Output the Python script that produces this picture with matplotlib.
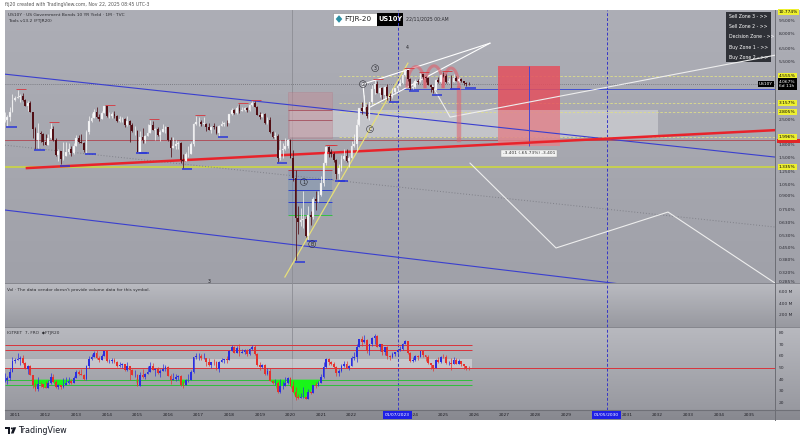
import numpy as np
import matplotlib
matplotlib.use("Agg")
import matplotlib.pyplot as plt
from matplotlib.patches import Rectangle, Polygon, Circle
from matplotlib.ticker import NullLocator

# ---------------- data ----------------
# US10Y monthly candles, Sep 2010 .. Nov 2025 (yield, %)
first_year, first_month = 2010, 9
first_open = 2.47
closes = [
    2.51, 2.60, 2.80, 3.29,
    3.37, 3.42, 3.47, 3.29, 3.05, 3.16, 2.80, 2.22, 1.92, 2.11, 2.07, 1.88,
    1.80, 1.98, 2.21, 1.91, 1.56, 1.65, 1.49, 1.55, 1.63, 1.69, 1.61, 1.76,
    1.98, 1.88, 1.85, 1.67, 2.13, 2.49, 2.58, 2.78, 2.61, 2.55, 2.74, 3.03,
    2.64, 2.65, 2.72, 2.65, 2.48, 2.53, 2.56, 2.34, 2.49, 2.34, 2.16, 2.17,
    1.64, 2.00, 1.92, 2.03, 2.12, 2.35, 2.18, 2.22, 2.04, 2.14, 2.21, 2.27,
    1.92, 1.73, 1.77, 1.83, 1.85, 1.47, 1.45, 1.58, 1.59, 1.83, 2.38, 2.44,
    2.45, 2.39, 2.39, 2.28, 2.20, 2.30, 2.29, 2.12, 2.33, 2.38, 2.41, 2.40,
    2.72, 2.86, 2.74, 2.95, 2.83, 2.86, 2.96, 2.86, 3.06, 3.14, 2.99, 2.69,
    2.63, 2.72, 2.41, 2.50, 2.13, 2.01, 2.02, 1.50, 1.67, 1.69, 1.78, 1.92,
    1.51, 1.15, 0.67, 0.64, 0.65, 0.66, 0.53, 0.70, 0.68, 0.87, 0.84, 0.92,
    1.07, 1.41, 1.74, 1.63, 1.58, 1.47, 1.22, 1.31, 1.49, 1.55, 1.44, 1.51,
    1.78, 1.83, 2.34, 2.94, 2.84, 3.01, 2.65, 3.19, 3.80, 4.05, 3.61, 3.87,
    3.52, 3.92, 3.47, 3.42, 3.64, 3.84, 3.96, 4.11, 4.57, 4.93, 4.33, 3.88,
    3.91, 4.25, 4.20, 4.68, 4.50, 4.40, 4.03, 3.91, 3.78, 4.28, 4.17, 4.57,
    4.54, 4.21, 4.21, 4.16, 4.40, 4.23, 4.37, 4.23, 4.15, 4.08, 4.067,
]
highs = [
    2.80, 2.67, 2.97, 3.55,
    3.47, 3.77, 3.58, 3.61, 3.32, 3.22, 3.22, 2.80, 2.28, 2.42, 2.17, 2.10,
    2.09, 2.08, 2.40, 2.31, 1.98, 1.70, 1.66, 1.86, 1.88, 1.85, 1.76, 1.85,
    2.06, 2.06, 2.08, 1.88, 2.20, 2.66, 2.75, 2.93, 3.00, 2.71, 2.85, 3.03,
    3.04, 2.79, 2.81, 2.82, 2.68, 2.66, 2.62, 2.57, 2.65, 2.51, 2.40, 2.32,
    2.19, 2.16, 2.25, 2.06, 2.37, 2.50, 2.48, 2.24, 2.30, 2.19, 2.37, 2.33,
    2.30, 1.99, 1.99, 1.91, 1.89, 1.88, 1.59, 1.63, 1.76, 1.87, 2.42, 2.64,
    2.62, 2.52, 2.63, 2.40, 2.42, 2.31, 2.41, 2.32, 2.35, 2.47, 2.43, 2.50,
    2.73, 2.95, 2.91, 3.03, 3.13, 2.98, 3.00, 3.00, 3.10, 3.26, 3.24, 3.03,
    2.80, 2.75, 2.75, 2.61, 2.60, 2.16, 2.14, 2.07, 1.91, 1.85, 1.97, 1.95,
    1.94, 1.68, 1.28, 0.79, 0.77, 0.96, 0.69, 0.79, 0.74, 0.89, 0.97, 0.96,
    1.19, 1.61, 1.77, 1.77, 1.70, 1.63, 1.49, 1.38, 1.56, 1.70, 1.69, 1.54,
    1.90, 2.07, 2.56, 2.96, 3.20, 3.50, 3.10, 3.20, 4.00, 4.33, 4.24, 3.91,
    3.90, 3.98, 4.09, 3.60, 3.86, 3.86, 4.09, 4.36, 4.69, 5.02, 4.93, 4.44,
    4.20, 4.35, 4.35, 4.74, 4.63, 4.52, 4.50, 4.06, 3.91, 4.34, 4.50, 4.64,
    4.81, 4.66, 4.40, 4.59, 4.63, 4.52, 4.50, 4.40, 4.27, 4.17, 4.16,
]
lows = [
    2.46, 2.33, 2.49, 2.80,
    3.23, 3.37, 3.19, 3.26, 3.04, 2.84, 2.78, 1.97, 1.70, 1.72, 1.87, 1.80,
    1.80, 1.80, 1.95, 1.90, 1.54, 1.44, 1.38, 1.46, 1.55, 1.59, 1.55, 1.58,
    1.84, 1.85, 1.84, 1.63, 1.61, 2.07, 2.46, 2.57, 2.58, 2.47, 2.53, 2.74,
    2.63, 2.57, 2.59, 2.59, 2.44, 2.44, 2.44, 2.30, 2.33, 1.86, 2.15, 2.06,
    1.64, 1.65, 1.85, 1.84, 2.03, 2.10, 2.18, 1.91, 2.03, 1.90, 2.13, 2.12,
    1.90, 1.53, 1.73, 1.69, 1.69, 1.40, 1.32, 1.45, 1.52, 1.58, 1.77, 2.34,
    2.31, 2.33, 2.35, 2.17, 2.18, 2.10, 2.22, 2.08, 2.03, 2.31, 2.31, 2.33,
    2.40, 2.70, 2.73, 2.73, 2.76, 2.82, 2.82, 2.81, 2.84, 3.05, 2.98, 2.68,
    2.55, 2.61, 2.37, 2.39, 2.12, 1.97, 1.94, 1.43, 1.46, 1.51, 1.68, 1.73,
    1.51, 1.11, 0.38, 0.54, 0.60, 0.59, 0.52, 0.50, 0.61, 0.66, 0.75, 0.83,
    0.90, 1.03, 1.37, 1.53, 1.53, 1.43, 1.13, 1.13, 1.26, 1.46, 1.42, 1.34,
    1.50, 1.74, 1.68, 2.33, 2.71, 2.83, 2.57, 2.52, 3.13, 3.57, 3.60, 3.40,
    3.32, 3.33, 3.29, 3.25, 3.37, 3.56, 3.72, 3.94, 4.07, 4.56, 4.26, 3.78,
    3.82, 3.86, 4.05, 4.19, 4.35, 4.18, 4.02, 3.67, 3.60, 3.74, 4.13, 4.13,
    4.50, 4.15, 4.11, 3.86, 4.16, 4.23, 4.21, 4.17, 4.00, 3.95, 4.00,
]

# RSI oscillator settings (Wilder smoothing) and its starting averages
rsi_length = 14
rsi_seed_gain = 0.075
rsi_seed_loss = 0.12
rsi_lines_red = [70, 65]
rsi_lines_green = [40, 35]
rsi_mid = 50
rsi_band = (50, 58)

# price levels (yield, %)
last_price = 4.067
level_labels_yellow = [4.555, 3.157, 2.805, 1.996, 1.335]
level_top = 10.774
level_red = 1.93
level_blue = 3.80
axis_ticks = [9.5, 8.0, 6.5, 5.5, 2.5, 1.8, 1.5, 1.25, 1.05, 0.9, 0.75,
              0.63, 0.53, 0.45, 0.38, 0.32, 0.285]

# drawings: (decimal year list, yield list)
upper_channel = ([2010.67, 2035.84], [4.65, 1.525])
lower_channel = ([2010.67, 2035.84], [0.748, 0.2155])
mid_dotted = ([2010.67, 2035.84], [1.79, 0.595])
red_trend = ([2011.39, 2035.84], [1.315, 2.19])
yellow_trend = ([2019.82, 2023.84], [0.304, 5.39])
wedge_upper = ([2022.37, 2026.52], [4.067, 7.05])
wedge_lower = ([2022.60, 2026.52], [2.985, 7.05])
wedge_side = ([2022.37, 2022.44], [4.067, 2.985])
path_up = ([2024.63, 2025.22, 2035.84], [4.01, 2.61, 6.0])
path_down = ([2025.87, 2028.68, 2032.34, 2035.84], [1.406, 0.449, 0.728, 0.28])

supply_zone = (2019.92, 2021.36, 1.966, 3.652)
supply_zone_lines = [2.867, 2.507]
demand_zone = (2019.92, 2021.36, 0.699, 1.280)
demand_zone_lines = [(1.280, "#c23a45"), (1.134, "#2e3fd0"), (0.978, "#2e3fd0"),
                     (0.833, "#2e3fd0"), (0.699, "#35c040")]
decision_band = (2019.99, 2032.01, 1.996, 2.867)
range_tool = (2026.785, 2028.81, 5.174, 1.773)
hump_base, hump_peaks = 3.85, [5.15, 5.20, 5.05]
hump_edges = [2023.81, 2024.40, 2024.99, 2025.51]
drop_leg = (2025.51, 3.85, 1.91)

wave_marks = [("1", 2020.44, 1.09, True), ("B", 2020.71, 0.473, True),
              ("2", 2022.37, 4.067, True), ("3", 2022.77, 5.04, True),
              ("C", 2022.60, 2.22, True), ("4", 2023.81, 6.69, False),
              ("3", 2017.34, 0.288, False)]

vline_dates = [2023.5, 2030.333]
vline_labels = ["01/07/2023", "01/05/2030"]
session_line = 2020.05
year_labels = [y for y in range(2011, 2036) if y not in (2023, 2030)]
vol_ticks = [600, 400, 200]
rsi_ticks = [80, 70, 60, 50, 40, 30, 20]

# ---------------- derived series ----------------
n = len(closes)
t = first_year + (first_month - 1) / 12 + np.arange(n) / 12
c = np.array(closes)
o = np.r_[first_open, c[:-1]]
h = np.maximum.reduce([np.array(highs), o, c])
l = np.minimum.reduce([np.array(lows), o, c])


def wilder_rsi(prev, cl, hi, lo, g0, l0, length):
    ag, al = g0, l0
    rc, rh, rl = [], [], []
    for cc, hh, ll in zip(cl, hi, lo):
        def value(x):
            ch = x - prev
            g = (ag * (length - 1) + max(ch, 0)) / length
            d = (al * (length - 1) + max(-ch, 0)) / length
            return 100.0 if d == 0 else 100 - 100 / (1 + g / d)
        rc.append(value(cc)); rh.append(value(hh)); rl.append(value(ll))
        ch = cc - prev
        ag = (ag * (length - 1) + max(ch, 0)) / length
        al = (al * (length - 1) + max(-ch, 0)) / length
        prev = cc
    return np.array(rc), np.array(rh), np.array(rl)


r_c, r_h, r_l = wilder_rsi(first_open, c, h, l, rsi_seed_gain, rsi_seed_loss, rsi_length)
r_o = np.r_[100 - 100 / (1 + rsi_seed_gain / rsi_seed_loss), r_c[:-1]]
r_h = np.maximum.reduce([r_h, r_o, r_c])
r_l = np.minimum.reduce([r_l, r_o, r_c])

# ---------------- figure layout ----------------
W, H = 800, 442
X0, X1 = 5, 775
fig = plt.figure(figsize=(8, 4.42), dpi=100)
fig.patch.set_facecolor("white")


def frame(x0, y0, x1, y1):
    return [x0 / W, 1 - y1 / H, (x1 - x0) / W, (y1 - y0) / H]


bg = np.ones((H, W, 3))


def shade(y0, y1, c0, c1, x0=X0, x1=W):
    k = np.linspace(0, 1, y1 - y0)[:, None]
    col = (np.array(c0) * (1 - k) + np.array(c1) * k) / 255.0
    bg[y0:y1, x0:x1, :] = col[:, None, :]


shade(10, 283, (173, 174, 182), (160, 161, 169))
shade(283, 327, (186, 187, 193), (152, 153, 160))
shade(327, 410, (184, 185, 191), (152, 153, 160))
shade(410, 420, (140, 141, 148), (136, 137, 144))

base = fig.add_axes([0, 0, 1, 1])
base.imshow(bg, extent=(0, W, H, 0), aspect="auto", interpolation="bilinear")
base.set_xlim(0, W); base.set_ylim(H, 0); base.axis("off")
for yy in (283, 327):
    base.plot([X0, W], [yy, yy], color="#85868d", lw=0.7)
base.plot([X0, W], [410, 410], color="#6f7077", lw=0.8)
base.plot([X1, X1], [10, 420], color="#6c6d74", lw=0.7)

base.text(5, 4.5, "ftj20 created with TradingView.com, Nov 22, 2025 08:45 UTC-3",
          fontsize=3.3, color="#555", va="center")
base.text(8, 15, "US10Y · US Government Bonds 10 YR Yield · 1M · TVC",
          fontsize=3.2, color="#2b2b30", va="center")
base.text(8, 21, "Tools v13.2 (FTJR20)", fontsize=3.2, color="#2b2b30", va="center")

# symbol widget
base.add_patch(Rectangle((333, 12.5), 44, 13, fc="white", ec="#8a8a8a", lw=0.4))
base.add_patch(Polygon([(339, 15.2), (342.3, 19), (339, 22.8), (335.7, 19)], fc="#2d8fa3"))
base.text(344.5, 19.2, "FTJR-20", fontsize=5.2, color="#222", va="center")
base.add_patch(Rectangle((377, 12.5), 26, 13, fc="black"))
base.text(390, 19.2, "US10Y", fontsize=4.8, color="white", va="center", ha="center",
          fontweight="bold")
base.text(406, 19.2, "22/11/2025 00:AM", fontsize=3.3, color="#2b2b30", va="center")

# zone menu
base.add_patch(Rectangle((726, 12), 45, 50, fc="#2f3137", ec="none"))
for yy, txt in zip([17, 27, 37, 47, 57],
                   ["Sell Zone 3 - >>", "Sell Zone 2 - >>", "Decision Zone - >>",
                    "Buy Zone 1 - >>", "Buy Zone 2 - >>"]):
    base.text(729, yy, txt, fontsize=3.3, color="white", va="center")

# footer logo
base.add_patch(Polygon([(5, 427.3), (10.2, 427.3), (10.2, 433.5), (7.8, 433.5),
                        (7.8, 429.3), (5, 429.3)], fc="#131722"))
base.add_patch(Circle((11.9, 428.4), 1.0, fc="#131722"))
base.add_patch(Polygon([(13.2, 427.3), (16.2, 427.3), (13.6, 433.5), (10.9, 433.5)],
                       fc="#131722"))
base.text(18, 430.6, "TradingView", fontsize=5.8, color="#131722", va="center")

xlim = (2011 + (X0 - 15) / 30.6, 2011 + (X1 - 15) / 30.6)


def pane(y0, y1):
    a = fig.add_axes(frame(X0, y0, X1, y1))
    a.set_facecolor("none")
    a.set_xlim(*xlim)
    for s in a.spines.values():
        s.set_visible(False)
    a.set_xticks([])
    return a


# ---------------- price pane ----------------
ax = pane(10, 283)
ax.set_yscale("log")
ax.set_ylim(0.2804, 11.02)
ax.set_yticks([])
ax.yaxis.set_minor_locator(NullLocator())

ax.axvline(session_line, color="#8c8d94", lw=0.6, zorder=1)
for d in vline_dates:
    ax.axvline(d, color="#3535c8", lw=0.7, ls=(0, (3, 2)), zorder=2)

ax.axhspan(*decision_band[2:], xmin=(decision_band[0] - xlim[0]) / (xlim[1] - xlim[0]),
           xmax=(decision_band[1] - xlim[0]) / (xlim[1] - xlim[0]),
           color="white", alpha=0.33, lw=0, zorder=1)
sx0, sx1, sy0, sy1 = supply_zone
ax.add_patch(Rectangle((sx0, sy0), sx1 - sx0, sy1 - sy0, fc="#c48c96", alpha=0.45,
                       ec="#b07080", lw=0.4, zorder=1))
for v in supply_zone_lines:
    ax.hlines(v, sx0, sx1, color="#a5505e", lw=0.6, zorder=2)
dx0, dx1, dy0, dy1 = demand_zone
ax.add_patch(Rectangle((dx0, dy0), dx1 - dx0, dy1 - dy0, fc="#6f8fb8", alpha=0.35,
                       lw=0, zorder=1))
for v, col in demand_zone_lines:
    ax.hlines(v, dx0, dx1, color=col, lw=0.7, zorder=2)

# horizontal levels
ax.axhline(last_price, color="#6d6e75", lw=0.6, ls=(0, (1, 1.5)), zorder=2)
ax.axhline(level_red, color="#b04450", lw=0.6, zorder=2)
ax.axhline(1.335, color="#c9d34a", lw=1.3, zorder=2)
for v in level_labels_yellow[:4]:
    ax.hlines(v, 2021.6, xlim[1], color="#dede8a", lw=0.6, ls=(0, (3, 2)), zorder=2)
ax.hlines(level_blue, 2023.6, xlim[1], color="#4050d0", lw=0.7, zorder=2)

# trend lines
ax.plot(*upper_channel, color="#3a3fcf", lw=0.8, zorder=3)
ax.plot(*lower_channel, color="#3a3fcf", lw=0.8, zorder=3)
ax.plot(*mid_dotted, color="#7f8088", lw=0.7, ls=(0, (1, 2)), zorder=3)
ax.plot(*red_trend, color="#e8232b", lw=1.8, zorder=4)
ax.plot(*yellow_trend, color="#e7df78", lw=0.9, zorder=4)
for seg in (wedge_upper, wedge_lower, wedge_side):
    ax.plot(*seg, color="white", lw=0.8, zorder=4)
ax.plot(*path_up, color="#eeeeee", lw=0.8, zorder=4)
ax.plot(*path_down, color="#eeeeee", lw=0.8, zorder=4)

# measured range
rx0, rx1, rtop, rbot = range_tool
ax.add_patch(Rectangle((rx0, 2.867), rx1 - rx0, rtop - 2.867, fc="#e4505e", alpha=0.85,
                       lw=0, zorder=2))
ax.add_patch(Rectangle((rx0, rbot), rx1 - rx0, 2.867 - rbot, fc="#e0848c", alpha=0.85,
                       lw=0, zorder=2))
rmid = (rx0 + rx1) / 2
ax.vlines(rmid, rbot, rtop, color="#4a4ad0", lw=0.7, zorder=3)
delta = rbot - rtop
ax.text(rmid, rbot * 0.905, f"{delta:.3f} ({delta / rtop * 100:.2f}%) {delta:,.3f}",
        fontsize=3.2, color="#333", ha="center", va="center", zorder=6,
        bbox=dict(boxstyle="square,pad=0.35", fc="#f2f2f2", ec="#9a9a9a", lw=0.3))

# projected arcs
for (ta, tb), pk in zip(zip(hump_edges[:-1], hump_edges[1:]), hump_peaks):
    s = np.linspace(0, np.pi, 40)
    tt = ta + (tb - ta) * (1 - np.cos(s)) / 2
    vv = hump_base * (pk / hump_base) ** np.sin(s)
    ax.plot(tt, vv, color="#e0606c", lw=2.2, alpha=0.6, solid_capstyle="butt", zorder=4)
ax.plot([drop_leg[0]] * 2, drop_leg[1:], color="#e0606c", lw=3.2, alpha=0.55, zorder=4)

# candles
up = c >= o
bw = 0.058
ax.vlines(t[up], l[up], h[up], color="#f2f2f2", lw=0.55, zorder=5)
ax.vlines(t[~up], l[~up], h[~up], color="#520f15", lw=0.55, zorder=5)
body_lo = np.minimum(o, c)
body_hi = np.maximum(np.maximum(o, c), body_lo * 1.006)
ax.bar(t[up], (body_hi - body_lo)[up], bottom=body_lo[up], width=bw, color="#fafafa",
       edgecolor="#cfcfd4", lw=0.2, zorder=6)
ax.bar(t[~up], (body_hi - body_lo)[~up], bottom=body_lo[~up], width=bw, color="#520f15",
       lw=0, zorder=6)

# swing markers
k = 4
for i in range(n):
    wl = l[max(0, i - k):i + k + 1]
    wh = h[max(0, i - k):i + k + 1]
    if l[i] == wl.min():
        ax.hlines(l[i] * 0.982, t[i] - 0.03, t[i] + 0.30, color="#2a36d8", lw=1.1, zorder=6)
    if h[i] == wh.max():
        ax.hlines(h[i] * 1.012, t[i] - 0.05, t[i] + 0.28, color="#d8343c", lw=0.6, zorder=6)

for txt, tx, ty, ring in wave_marks:
    kw = dict(fontsize=3.3, color="#1e1e24", ha="center", va="center", zorder=7)
    if ring:
        kw["bbox"] = dict(boxstyle="circle,pad=0.2", fc="none", ec="#1e1e24", lw=0.35)
    ax.text(tx, ty, txt, **kw)

# price scale labels
ytr = ax.get_yaxis_transform()
lx = 1 + 4 / (X1 - X0)
for v in axis_ticks:
    ax.text(lx, v, f"{v:.3f}%", transform=ytr, fontsize=3.2, color="#2b2b33",
            va="center", clip_on=False)
ax.text(lx, ax.get_ylim()[1], f"{level_top:.3f}%", transform=ytr, fontsize=3.2,
        color="black", va="top", clip_on=False,
        bbox=dict(boxstyle="square,pad=0.25", fc="#eef030", ec="none"))
# marker of the red level, mostly tucked under the 1.996 tag
ax.add_patch(Rectangle((1 + 2 / (X1 - X0), level_red * 0.955), 23 / (X1 - X0),
                       level_red * 0.05, transform=ytr, fc="#e02626", ec="none",
                       clip_on=False, zorder=7))
for v in level_labels_yellow:
    ax.text(lx, v, f"{v:.3f}%", transform=ytr, fontsize=3.2, color="black", va="center",
            clip_on=False, zorder=8,
            bbox=dict(boxstyle="square,pad=0.25", fc="#eef030", ec="none"))
ax.text(lx, last_price, f"{last_price:.3f}%\n6d 11h", transform=ytr, fontsize=3.2,
        color="white", va="center", clip_on=False, linespacing=1.2, zorder=8,
        bbox=dict(boxstyle="square,pad=0.3", fc="black", ec="none"))
ax.text(1 - 2 / (X1 - X0), last_price, "US10Y", transform=ytr, fontsize=3.2,
        color="white", va="center", ha="right", clip_on=False, zorder=8,
        bbox=dict(boxstyle="square,pad=0.3", fc="black", ec="none"))

# ---------------- volume pane ----------------
av = pane(283, 327)
av.set_ylim(0, 750)
av.set_yticks([])
av.axvline(session_line, color="#8c8d94", lw=0.6)
for d in vline_dates:
    av.axvline(d, color="#3535c8", lw=0.7, ls=(0, (3, 2)))
av.text(2 / (X1 - X0), 0.84, "Vol · The data vendor doesn't provide volume data for this symbol.",
        transform=av.transAxes, fontsize=3.1, color="#2b2b30", va="center")
vtr = av.get_yaxis_transform()
for v in vol_ticks:
    av.text(lx, v, f"{v} M", transform=vtr, fontsize=3.2, color="#2b2b33", va="center",
            clip_on=False)

# ---------------- RSI pane ----------------
ar = pane(327, 410)
ar.set_ylim(14.0, 85.1)
ar.set_yticks([])
end_t = t[-1] + 0.1
ar.axvline(session_line, color="#8c8d94", lw=0.6, zorder=1)
for d in vline_dates:
    ar.axvline(d, color="#3535c8", lw=0.7, ls=(0, (3, 2)), zorder=2)
ar.fill_between([xlim[0], end_t], *rsi_band, color="white", alpha=0.35, lw=0, zorder=1)
for v in rsi_lines_red:
    ar.hlines(v, xlim[0], end_t, color="#d8343c", lw=0.7, zorder=2)
for v in rsi_lines_green:
    ar.hlines(v, xlim[0], end_t, color="#2fbf3a", lw=0.7, zorder=2)
ar.axhline(rsi_mid, color="#d8343c", lw=0.7, zorder=2)
ar.fill_between(t, 40, r_c, where=r_c < 40, interpolate=True, color="#19f519", lw=0,
                zorder=3)
rup = r_c >= r_o
ar.vlines(t[rup], r_l[rup], r_h[rup], color="#2a2ee0", lw=0.5, zorder=4)
ar.vlines(t[~rup], r_l[~rup], r_h[~rup], color="#e5322d", lw=0.5, zorder=4)
rb_lo = np.minimum(r_o, r_c)
rb_hi = np.maximum(np.maximum(r_o, r_c), rb_lo + 0.4)
ar.bar(t[rup], (rb_hi - rb_lo)[rup], bottom=rb_lo[rup], width=bw, color="#2a2ee0",
       lw=0, zorder=5)
ar.bar(t[~rup], (rb_hi - rb_lo)[~rup], bottom=rb_lo[~rup], width=bw, color="#e5322d",
       lw=0, zorder=5)
ar.text(2 / (X1 - X0), 0.925, "IGTRET  7, FRO  ◆FTJR20", transform=ar.transAxes,
        fontsize=3.1, color="#2b2b30", va="center")
rtr = ar.get_yaxis_transform()
for v in rsi_ticks:
    ar.text(lx, v, f"{v}", transform=rtr, fontsize=3.2, color="#2b2b33", va="center",
            clip_on=False)

# ---------------- time scale ----------------
at = pane(410, 420)
at.set_ylim(0, 1)
at.set_yticks([])
for yr in year_labels:
    at.text(yr, 0.5, str(yr), fontsize=3.2, color="#1e1e24", ha="center", va="center")
for d, lab in zip(vline_dates, vline_labels):
    at.text(d, 0.5, lab, fontsize=3.2, color="white", ha="center", va="center", zorder=5,
            bbox=dict(boxstyle="square,pad=0.45", fc="#1f1fe6", ec="none"))

fig.savefig("out.png", dpi=100)
